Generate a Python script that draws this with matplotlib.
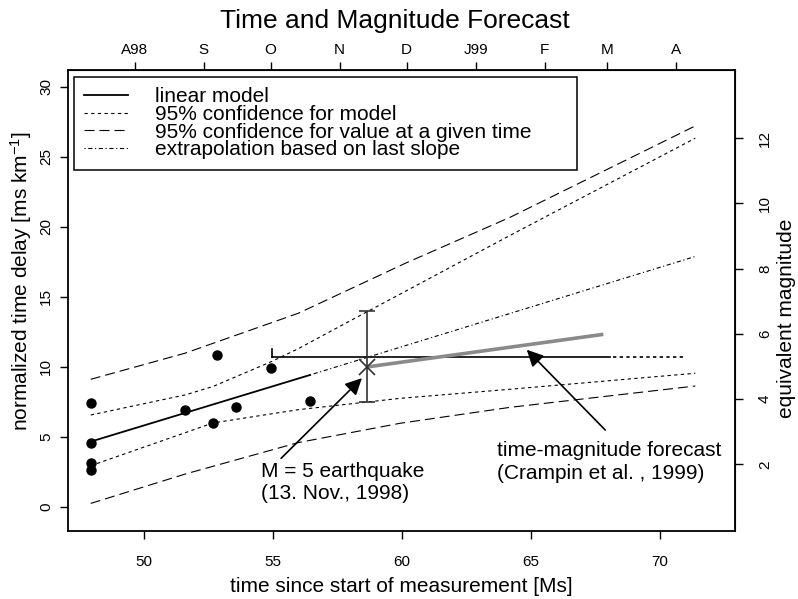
import matplotlib
matplotlib.use('Agg')
import matplotlib.pyplot as plt

plt.rcParams['font.family'] = ['Liberation Sans', 'DejaVu Sans']
plt.rcParams['mathtext.fontset'] = 'custom'
plt.rcParams['mathtext.rm'] = 'Liberation Sans'
plt.rcParams['mathtext.it'] = 'Liberation Sans:italic'
plt.rcParams['lines.scale_dashes'] = False

# observations
obs_t = [47.93, 47.93, 47.93, 47.93, 51.59, 52.66, 52.83, 53.57, 54.90, 56.43]
obs_d = [7.41, 4.58, 3.14, 2.63, 6.93, 6.00, 10.86, 7.12, 9.92, 7.59]

# linear model and its extrapolation
model_t = [47.93, 56.43]
model_d = [4.67, 9.43]
extrap_t = [56.43, 71.38]
extrap_d = [9.43, 17.90]

# 95% confidence for model
conf_up_t = [47.93, 51.58, 52.66, 54.93, 55.97, 58.05, 64.19, 71.36]
conf_up_d = [6.57, 8.00, 8.60, 10.38, 11.30, 13.36, 19.40, 26.33]
conf_lo_t = [47.93, 51.58, 52.66, 55.97, 59.92, 64.19, 71.36]
conf_lo_d = [2.95, 5.30, 6.00, 6.95, 7.76, 8.41, 9.55]

# 95% confidence for value at a given time
pred_up_t = [47.93, 51.58, 55.97, 60.12, 64.19, 71.36]
pred_up_d = [9.12, 10.98, 13.83, 17.40, 20.69, 27.21]
pred_lo_t = [47.93, 51.58, 55.97, 59.92, 64.19, 71.36]
pred_lo_d = [0.26, 2.35, 4.60, 5.98, 7.12, 8.64]

# time-magnitude forecast (Crampin et al., 1999)
fc_t = [54.97, 68.06]
fc_dotted_t = [68.19, 70.90]
fc_d = 10.69
fc_tick_top = 11.29

# M = 5 earthquake
quake_t = 58.63
quake_d = 10.00
quake_lo = 7.47
quake_hi = 13.97
gray_t = [58.63, 67.80]
gray_d = [10.00, 12.33]

# annotations
arrow1_tail = (55.31, 3.48)
arrow1_head = (58.44, 9.20)
arrow2_tail = (67.87, 5.50)
arrow2_head = (64.83, 11.23)
text1_pos = (54.53, 3.23)
text2_pos = (63.66, 4.68)

# axes ticks
x_ticks = [50, 55, 60, 65, 70]
y_ticks = [0, 5, 10, 15, 20, 25, 30]
month_pos = [49.64, 52.31, 54.90, 57.58, 60.17, 62.85, 65.52, 67.94, 70.62]
month_labels = ['A98', 'S', 'O', 'N', 'D', 'J99', 'F', 'M', 'A']
mag_ticks = [2, 4, 6, 8, 10, 12]
MAG_REF = 2.0
DELAY_REF = 3.05
DELAY_PER_MAG = 2.329

SHORT = (0, (2.4, 2.4))
LONG = (0, (7.2, 3.6))
DASHDOT = (0, (0.8, 1.9, 3.0, 1.9))


def d2m(d):
    return MAG_REF + (d - DELAY_REF) / DELAY_PER_MAG


def m2d(m):
    return DELAY_REF + (m - MAG_REF) * DELAY_PER_MAG


fig = plt.figure(figsize=(7.98, 5.99), dpi=100)
ax = fig.add_axes([68 / 798, 1 - 531 / 599, 667 / 798, 461 / 599])
ax.set_xlim(47.05, 72.9)
ax.set_ylim(-1.71, 31.2)

ax.plot(model_t, model_d, color='black', lw=1.3, label='linear model')
ax.plot(conf_up_t, conf_up_d, color='black', lw=0.8, ls=SHORT,
        label='95% confidence for model')
ax.plot(conf_lo_t, conf_lo_d, color='black', lw=0.8, ls=SHORT)
ax.plot(pred_up_t, pred_up_d, color='black', lw=0.8, ls=LONG,
        label='95% confidence for value at a given time')
ax.plot(pred_lo_t, pred_lo_d, color='black', lw=0.8, ls=LONG)
ax.plot(extrap_t, extrap_d, color='black', lw=0.8, ls=DASHDOT,
        label='extrapolation based on last slope')

ax.plot(obs_t, obs_d, 'o', color='black', ms=6.5, zorder=5)

# forecast
ax.plot(fc_t, [fc_d, fc_d], color='black', lw=1.2)
ax.plot(fc_dotted_t, [fc_d, fc_d], color='black', lw=1.2, ls=SHORT)
ax.plot([fc_t[0], fc_t[0]], [fc_d, fc_tick_top], color='black', lw=1.2)
ax.plot(gray_t, gray_d, color='#8a8a8a', lw=2.6, solid_capstyle='butt')

# earthquake
ax.errorbar(quake_t, quake_d, yerr=[[quake_d - quake_lo], [quake_hi - quake_d]],
            fmt='none', ecolor='#333333', elinewidth=1.2, capsize=5.8, capthick=1.2)
ax.plot(quake_t, quake_d, marker='x', ms=12, mew=1.2, color='#333333', zorder=6)

arrow = dict(arrowstyle='-|>,head_length=0.5,head_width=0.25', color='black',
             lw=1.2, mutation_scale=20, shrinkA=0, shrinkB=0)
ax.annotate('', xy=arrow1_head, xytext=arrow1_tail, arrowprops=arrow)
ax.annotate('', xy=arrow2_head, xytext=arrow2_tail, arrowprops=arrow)
ax.text(*text1_pos, 'M = 5 earthquake\n(13. Nov., 1998)', fontsize=15,
        ha='left', va='top', linespacing=1.23)
ax.text(*text2_pos, 'time-magnitude forecast\n(Crampin et al. , 1999)', fontsize=15,
        ha='left', va='top', linespacing=1.23)

# axes
ax.set_xticks(x_ticks)
ax.set_yticks(y_ticks)
ax.tick_params(axis='x', length=6, width=1, labelsize=11, pad=11)
ax.tick_params(axis='y', length=6, width=1, labelsize=11, pad=4.7)
plt.setp(ax.get_yticklabels(), rotation=90, rotation_mode='default',
         ha='right', va='center')
for s in ax.spines.values():
    s.set_linewidth(1.3)

ax.set_xlabel('time since start of measurement [Ms]', fontsize=15)
ax.xaxis.set_label_coords(0.5, -(577 - 531) / 461)
ax.set_ylabel('normalized time delay [ms km$^{-1}$]', fontsize=15)
ax.yaxis.set_label_coords((34 - 68) / 667, (531 - 281) / 461)

top = ax.secondary_xaxis('top')
top.set_xticks(month_pos, labels=month_labels)
top.tick_params(length=6, width=1, labelsize=11, pad=3.7)

right = ax.secondary_yaxis('right', functions=(d2m, m2d))
right.set_yticks(mag_ticks)
right.tick_params(length=6, width=1, labelsize=11, pad=10.5)
plt.setp(right.get_yticklabels(), rotation=90, rotation_mode='default',
         ha='left', va='center')
right.set_ylabel('equivalent magnitude', fontsize=15)
right.yaxis.set_label_coords((777 - 68) / 667, (531 - 318) / 461,
                             transform=ax.transAxes)

ax.legend(loc='upper left',
          bbox_to_anchor=(6 / 667, (531 - 169) / 461, 502.7 / 667, 92.3 / 461),
          mode='expand', borderaxespad=0, borderpad=0.5, fontsize=15,
          handlelength=2.1, handletextpad=1.3, labelspacing=-0.06,
          frameon=True, fancybox=False, framealpha=1, edgecolor='black')
ax.get_legend().get_frame().set_linewidth(1.1)

fig.text(0.495, 1 - 28 / 599, 'Time and Magnitude Forecast', fontsize=19,
         ha='center', va='baseline')

fig.savefig('out.png', dpi=100)
